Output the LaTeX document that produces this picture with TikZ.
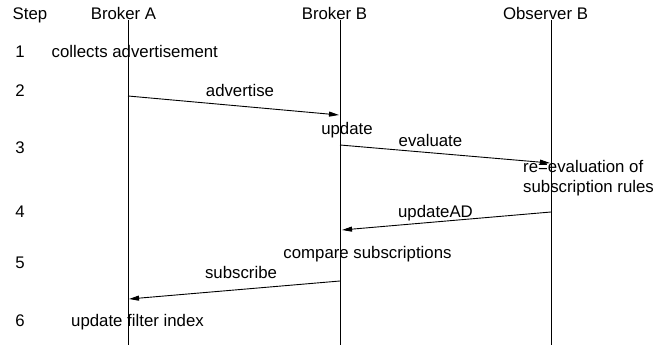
\documentclass[tikz,border=0pt]{standalone}
\usepackage{fontspec}
\setmainfont{Liberation Sans}
\usetikzlibrary{arrows.meta}
\begin{document}
\begin{tikzpicture}[x=1pt,y=-1pt,
  lbl/.style={font=\fontsize{16.8}{20}\selectfont, inner sep=0pt, anchor=base},
  lblw/.style={lbl, anchor=base west},
  lifeline/.style={draw=black, line width=0.9pt},
  msg/.style={draw=black, line width=0.9pt, -{Triangle[length=10pt,width=5pt]}}]
  \useasboundingbox (0,0) rectangle (667,347);

  % column headers
  \node[lbl] (hstep) at (30,20) {Step};
  \node[lbl] (hA) at (123.5,20) {Broker A};
  \node[lbl] (hB) at (334.5,20) {Broker B};
  \node[lbl] (hO) at (545.5,20) {Observer B};

  % lifelines
  \coordinate (Atop) at (128,20);  \coordinate (Abot) at (128,345);
  \coordinate (Btop) at (340,20);  \coordinate (Bbot) at (340,345);
  \coordinate (Otop) at (551,20);  \coordinate (Obot) at (551,345);
  \draw[lifeline] (Atop) -- (Abot);
  \draw[lifeline] (Btop) -- (Bbot);
  \draw[lifeline] (Otop) -- (Obot);

  % step numbers
  \node[lbl] (s1) at (20,58) {1};
  \node[lbl] (s2) at (20,97) {2};
  \node[lbl] (s3) at (20,154) {3};
  \node[lbl] (s4) at (20,218) {4};
  \node[lbl] (s5) at (20,269) {5};
  \node[lbl] (s6) at (20,327) {6};

  % local actions
  \node[lblw] (collect) at (51.5,58) {collects advertisement};
  \node[lbl] (upd) at (347,135) {update};
  \node[lblw] (reeval1) at (523,173) {re=evaluation of};
  \node[lblw] (reeval2) at (523,193) {subscription rules};
  \node[lbl] (compare) at (367.5,259) {compare subscriptions};
  \node[lblw] (filter) at (71,327) {update filter index};

  % messages
  \coordinate (adv1) at (128,96);   \coordinate (adv2) at (339,115);
  \coordinate (ev1) at (340,145);   \coordinate (ev2) at (550,163);
  \coordinate (ad1) at (551,212);   \coordinate (ad2) at (342,230);
  \coordinate (sub1) at (340,281);  \coordinate (sub2) at (129,299);
  \draw[msg] (adv1) -- (adv2);
  \draw[msg] (ev1) -- (ev2);
  \draw[msg] (ad1) -- (ad2);
  \draw[msg] (sub1) -- (sub2);
  \node[lbl] (advl) at (240,97) {advertise};
  \node[lbl] (evl) at (430.5,147) {evaluate};
  \node[lbl] (adl) at (435.5,218) {updateAD};
  \node[lbl] (subl) at (241,279) {subscribe};
\end{tikzpicture}
\end{document}
